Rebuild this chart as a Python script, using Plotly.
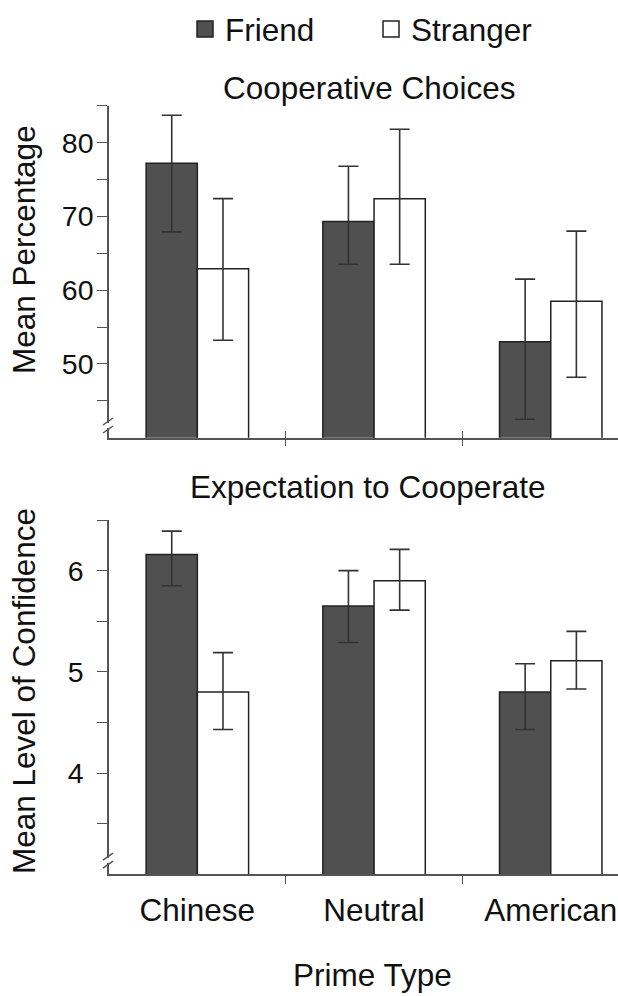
import plotly.graph_objects as go

# ---------------- data ----------------
categories = ["Chinese", "Neutral", "American"]
series_names = ["Friend", "Stranger"]

# Cooperative Choices (mean percentage)
coop_friend = [77.2, 69.3, 53.0]
coop_friend_hi = [83.7, 76.8, 61.5]
coop_friend_lo = [67.9, 63.5, 42.5]
coop_stranger = [62.9, 72.4, 58.5]
coop_stranger_hi = [72.4, 81.8, 68.0]
coop_stranger_lo = [53.2, 63.5, 48.2]

# Expectation to Cooperate (mean level of confidence)
exp_friend = [6.16, 5.65, 4.80]
exp_friend_hi = [6.39, 6.00, 5.08]
exp_friend_lo = [5.85, 5.29, 4.43]
exp_stranger = [4.80, 5.90, 5.11]
exp_stranger_hi = [5.19, 6.21, 5.40]
exp_stranger_lo = [4.43, 5.61, 4.83]

top_ticks = [50, 60, 70, 80]
top_minor = [45, 55, 65, 75, 85]
bot_ticks = [4, 5, 6]
bot_minor = [3.5, 4.5, 5.5, 6.5]

# ---------------- styling ----------------
FONT = "Liberation Sans, Arial, sans-serif"
TXT = "#111111"
FRIEND_FILL = "#505050"
STRANGER_FILL = "#ffffff"
OUTLINE = "#222222"
ERR = "#333333"
AXIS = "#555555"
FS = 31.5
TFS = 28.5

W, H = 618, 996
ML = 109


def px_x(p):
    return (p - ML) / (W - ML)


def px_y(p):
    return 1 - p / H


xpos = list(range(len(categories)))


def bar(x, vals, hi, lo, fill, xa, ya):
    return go.Bar(
        x=x, y=vals, xaxis=xa, yaxis=ya, showlegend=False,
        marker=dict(color=fill, line=dict(color=OUTLINE, width=1.5)),
        error_y=dict(type="data", symmetric=False,
                     array=[h - v for h, v in zip(hi, vals)],
                     arrayminus=[v - l for v, l in zip(vals, lo)],
                     color=ERR, thickness=1.6, width=10),
    )


fig = go.Figure()
fig.add_trace(bar(xpos, coop_friend, coop_friend_hi, coop_friend_lo, FRIEND_FILL, "x", "y"))
fig.add_trace(bar(xpos, coop_stranger, coop_stranger_hi, coop_stranger_lo, STRANGER_FILL, "x", "y"))
fig.add_trace(bar(xpos, exp_friend, exp_friend_hi, exp_friend_lo, FRIEND_FILL, "x2", "y2"))
fig.add_trace(bar(xpos, exp_stranger, exp_stranger_hi, exp_stranger_lo, STRANGER_FILL, "x2", "y2"))

# legend entries
for name, fill in zip(series_names, [FRIEND_FILL, STRANGER_FILL]):
    fig.add_trace(go.Scatter(
        x=[None], y=[None], mode="markers", name=name, xaxis="x", yaxis="y",
        marker=dict(symbol="square", size=30, color=fill, line=dict(color=OUTLINE, width=1.5)),
    ))

xrange = [-0.5, -0.5 + (W - ML) / 176.7]
bounds = [0.5, 1.5]

common_x = dict(range=xrange, showline=True, linecolor=AXIS, linewidth=1.5,
                showgrid=False, zeroline=False, automargin=False, fixedrange=True)

fig.update_layout(
    width=W, height=H,
    margin=dict(l=ML, r=0, t=0, b=0),
    paper_bgcolor="white", plot_bgcolor="white",
    font=dict(family=FONT, color=TXT, size=FS),
    barmode="group", bargap=0.42, bargroupgap=0,
    showlegend=True,
    legend=dict(orientation="h", x=px_x(185), y=px_y(2), xanchor="left", yanchor="top",
                font=dict(size=FS, family=FONT, color=TXT),
                entrywidth=141, entrywidthmode="pixels",
                bgcolor="rgba(0,0,0,0)"),
    xaxis=dict(domain=[0, 1], anchor="y", tickmode="array", tickvals=bounds,
               ticks="inside", ticklen=7, tickwidth=1, tickcolor=AXIS, showticklabels=False,
               minor=dict(tickvals=bounds, ticks="outside", ticklen=7, tickwidth=1, tickcolor=AXIS),
               **common_x),
    yaxis=dict(domain=[px_y(437.7), px_y(105.7)], anchor="x", range=[40, 85],
               tickmode="array", tickvals=top_ticks, ticks="outside", ticklen=10,
               tickwidth=1, tickcolor=AXIS, tickfont=dict(size=TFS),
               ticklabelstandoff=-2,
               minor=dict(tickvals=top_minor, ticks="outside", ticklen=10, tickwidth=1, tickcolor=AXIS),
               showline=True, linecolor=AXIS, linewidth=1.5, showgrid=False, zeroline=False,
               automargin=False, fixedrange=True),
    xaxis2=dict(domain=[0, 1], anchor="y2", tickmode="array", tickvals=xpos, ticktext=categories,
                ticks="", tickfont=dict(size=FS), ticklabelstandoff=7,
                minor=dict(tickvals=bounds, ticks="outside", ticklen=8, tickwidth=1, tickcolor=AXIS),
                **common_x),
    yaxis2=dict(domain=[px_y(874.3), px_y(520)], anchor="x2", range=[3, 6.5],
                tickmode="array", tickvals=bot_ticks, ticks="outside", ticklen=10,
                tickwidth=1, tickcolor=AXIS, tickfont=dict(size=TFS),
                ticklabelstandoff=8,
                minor=dict(tickvals=bot_minor, ticks="outside", ticklen=10, tickwidth=1, tickcolor=AXIS),
                showline=True, linecolor=AXIS, linewidth=1.5, showgrid=False, zeroline=False,
                automargin=False, fixedrange=True),
)

# titles / axis titles as annotations
ann = [
    dict(text="Cooperative Choices", x=px_x(368.8), y=px_y(88), xanchor="center", yanchor="middle"),
    dict(text="Expectation to Cooperate", x=px_x(367), y=px_y(487), xanchor="center", yanchor="middle"),
    dict(text="Mean Percentage", x=px_x(24), y=px_y(250), textangle=-90, xanchor="center", yanchor="middle"),
    dict(text="Mean Level of Confidence", x=px_x(24), y=px_y(691), textangle=-90, xanchor="center", yanchor="middle"),
    dict(text="Prime Type", x=px_x(372.5), y=px_y(975), xanchor="center", yanchor="middle"),
]
for a in ann:
    fig.add_annotation(xref="paper", yref="paper", showarrow=False,
                       font=dict(size=FS, family=FONT, color=TXT), **a)

# axis-break marks on the y axes
for xref, yref, anchor in [("x domain", "y", 41.72), ("x2 domain", "y2", 3.141)]:
    fig.add_shape(type="rect", xref=xref, yref=yref, xsizemode="pixel", ysizemode="pixel",
                  xanchor=0, yanchor=anchor, x0=-3, x1=3, y0=-3, y1=2,
                  fillcolor="white", line=dict(width=0), layer="above")
    for y0, y1 in [(0, 7), (-8, -1)]:
        fig.add_shape(type="line", xref=xref, yref=yref, xsizemode="pixel", ysizemode="pixel",
                      xanchor=0, yanchor=anchor, x0=-6, x1=4, y0=y0, y1=y1,
                      line=dict(color=AXIS, width=1.5), layer="above")

fig.write_html("out.html", config={"displayModeBar": False},
               post_script="document.body.style.margin='0';document.body.style.overflow='hidden';")
